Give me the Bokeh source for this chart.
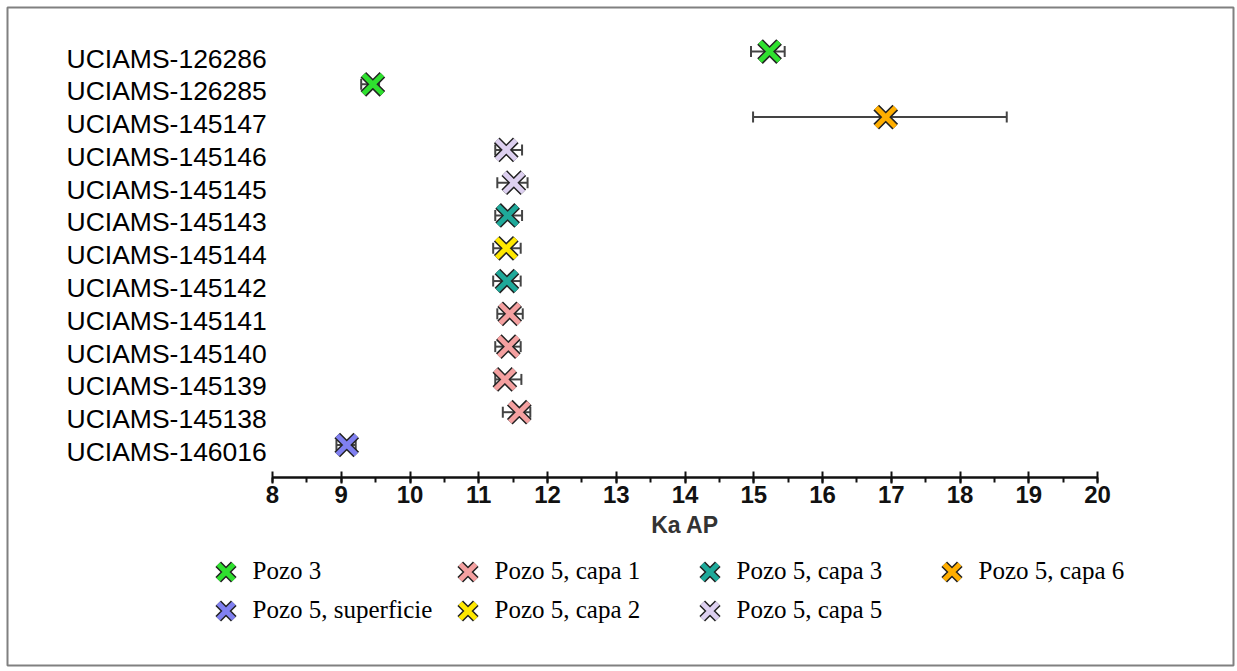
from bokeh.plotting import figure
from bokeh.models import (ColumnDataSource, Whisker, TeeHead, Legend, LegendItem,
                          Range1d, SingleIntervalTicker)
from bokeh.core.properties import value
from bokeh.embed import file_html
from bokeh.resources import INLINE

# ---------------- data (bottom row first) ----------------
samples = ["UCIAMS-146016", "UCIAMS-145138", "UCIAMS-145139", "UCIAMS-145140",
           "UCIAMS-145141", "UCIAMS-145142", "UCIAMS-145144", "UCIAMS-145143",
           "UCIAMS-145145", "UCIAMS-145146", "UCIAMS-145147", "UCIAMS-126285",
           "UCIAMS-126286"]
ages = [9.08, 11.59, 11.38, 11.43, 11.45, 11.41, 11.40, 11.42, 11.51, 11.40, 16.92, 9.46, 15.23]
age_low = [8.93, 11.35, 11.24, 11.24, 11.27, 11.21, 11.21, 11.24, 11.27, 11.24, 14.99, 9.29, 14.96]
age_high = [9.21, 11.75, 11.62, 11.61, 11.64, 11.61, 11.61, 11.63, 11.71, 11.63, 18.68, 9.55, 15.45]
groups = ["Pozo 5, superficie", "Pozo 5, capa 1", "Pozo 5, capa 1", "Pozo 5, capa 1",
          "Pozo 5, capa 1", "Pozo 5, capa 3", "Pozo 5, capa 2", "Pozo 5, capa 3",
          "Pozo 5, capa 5", "Pozo 5, capa 5", "Pozo 5, capa 6", "Pozo 3", "Pozo 3"]

legend_rows = [["Pozo 3", "Pozo 5, capa 1", "Pozo 5, capa 3", "Pozo 5, capa 6"],
               ["Pozo 5, superficie", "Pozo 5, capa 2", "Pozo 5, capa 5"]]
group_colors = {
    "Pozo 3": "#2fe02f",
    "Pozo 5, capa 1": "#f4a0a0",
    "Pozo 5, capa 3": "#1fa99a",
    "Pozo 5, capa 6": "#ffae00",
    "Pozo 5, superficie": "#8080f0",
    "Pozo 5, capa 2": "#ffe800",
    "Pozo 5, capa 5": "#ddd0f0",
}
x_axis_bounds = (8, 20)
x_ticks_interval = 1
axis_title = "Ka AP"

# ---------------- layout constants (pixels) ----------------
W, H = 1237, 671
BL, BR, BT, BB = 7, 1233, 7, 665          # bordered box = plot frame
px_per_unit = 68.75
x8_px, x20_px = 272, 1097
row0_px, row_step = 444.5, 32.79           # bottom row centre, row spacing
axis_px, title_px = 477, 524
legend_row_px = [571, 610]
legend_left_px = 225
GL = 55                                    # legend glyph box
COL_PITCH = 242

x_start = 8 - (x8_px - BL) / px_per_unit
x_end = 20 + (BR - x20_px) / px_per_unit
y_start = -(BB - row0_px) / row_step
y_end = (row0_px - BT) / row_step
axis_y = -(axis_px - row0_px) / row_step
title_y = -(title_px - row0_px) / row_step
label_x = 8 - (x8_px - 66) / px_per_unit

rows = list(range(len(samples)))

p = figure(width=W, height=H, output_backend="svg", toolbar_location=None,
           x_range=Range1d(x_start, x_end), y_range=Range1d(y_start, y_end),
           min_border_left=BL, min_border_right=W - BR, min_border_top=BT,
           min_border_bottom=H - BB)
p.outline_line_color = "#808080"
p.outline_line_width = 2
p.grid.visible = False
p.yaxis.visible = False

xa = p.xaxis[0]
xa.fixed_location = axis_y
xa.bounds = x_axis_bounds
xa.ticker = SingleIntervalTicker(interval=x_ticks_interval, num_minor_ticks=2)
xa.axis_line_width = 2.5
xa.axis_line_color = "#111111"
xa.major_tick_line_width = 2
xa.major_tick_line_color = "#111111"
xa.major_tick_in = 6
xa.major_tick_out = 6
xa.minor_tick_line_width = 2
xa.minor_tick_line_color = "#111111"
xa.minor_tick_in = 0
xa.minor_tick_out = 5
xa.major_label_text_font = "Liberation Sans"
xa.major_label_text_font_style = "bold"
xa.major_label_text_font_size = "24px"
xa.major_label_text_color = "#111111"
xa.major_label_standoff = 2

# axis title, centred under the 8-20 axis
p.text(x=[sum(x_axis_bounds) / 2], y=[title_y], text=[axis_title],
       text_font=value("Liberation Sans"), text_font_style="bold",
       text_font_size="23px", text_color="#333333",
       text_align="center", text_baseline="middle")

# sample labels
p.text(x=[label_x] * len(samples), y=rows, text=samples,
       text_font=value("Liberation Sans"), text_font_size="26.5px",
       text_align="left", text_baseline="middle", text_color="#000000",
       y_offset=7)

# error bars
src_all = ColumnDataSource(dict(y=rows, lo=age_low, hi=age_high))
wh = Whisker(source=src_all, base="y", lower="lo", upper="hi", dimension="width",
             line_color="#444444", line_width=2,
             lower_head=TeeHead(size=11, line_color="#444444", line_width=2),
             upper_head=TeeHead(size=11, line_color="#444444", line_width=2))
p.add_layout(wh)

# markers (outlined X) per group
items = {}
for g in group_colors:
    idx = [i for i, gg in enumerate(groups) if gg == g]
    src = ColumnDataSource(dict(x=[ages[i] for i in idx], y=[rows[i] for i in idx]))
    r1 = p.scatter("x", "y", source=src, marker="x", size=27,
                   line_color="#222222", line_width=8)
    r2 = p.scatter("x", "y", source=src, marker="x", size=27,
                   line_color=group_colors[g], line_width=5)
    items[g] = LegendItem(label=g, renderers=[r1, r2])

# legend: one horizontal legend per row
for row_names, row_px in zip(legend_rows, legend_row_px):
    lg = Legend(items=[items[g] for g in row_names], orientation="horizontal",
                location=(legend_left_px - GL / 2 - BL, BB - (row_px + GL / 2)))
    lg.label_text_font = "Liberation Serif"
    lg.label_text_font_size = "25px"
    lg.label_text_color = "#000000"
    lg.glyph_width = GL
    lg.glyph_height = GL
    lg.label_standoff = 0
    lg.label_width = COL_PITCH - GL
    lg.spacing = 0
    lg.padding = 0
    lg.margin = 0
    lg.border_line_color = None
    lg.background_fill_alpha = 0
    p.add_layout(lg)

open("out.html", "w").write(file_html(p, INLINE))
